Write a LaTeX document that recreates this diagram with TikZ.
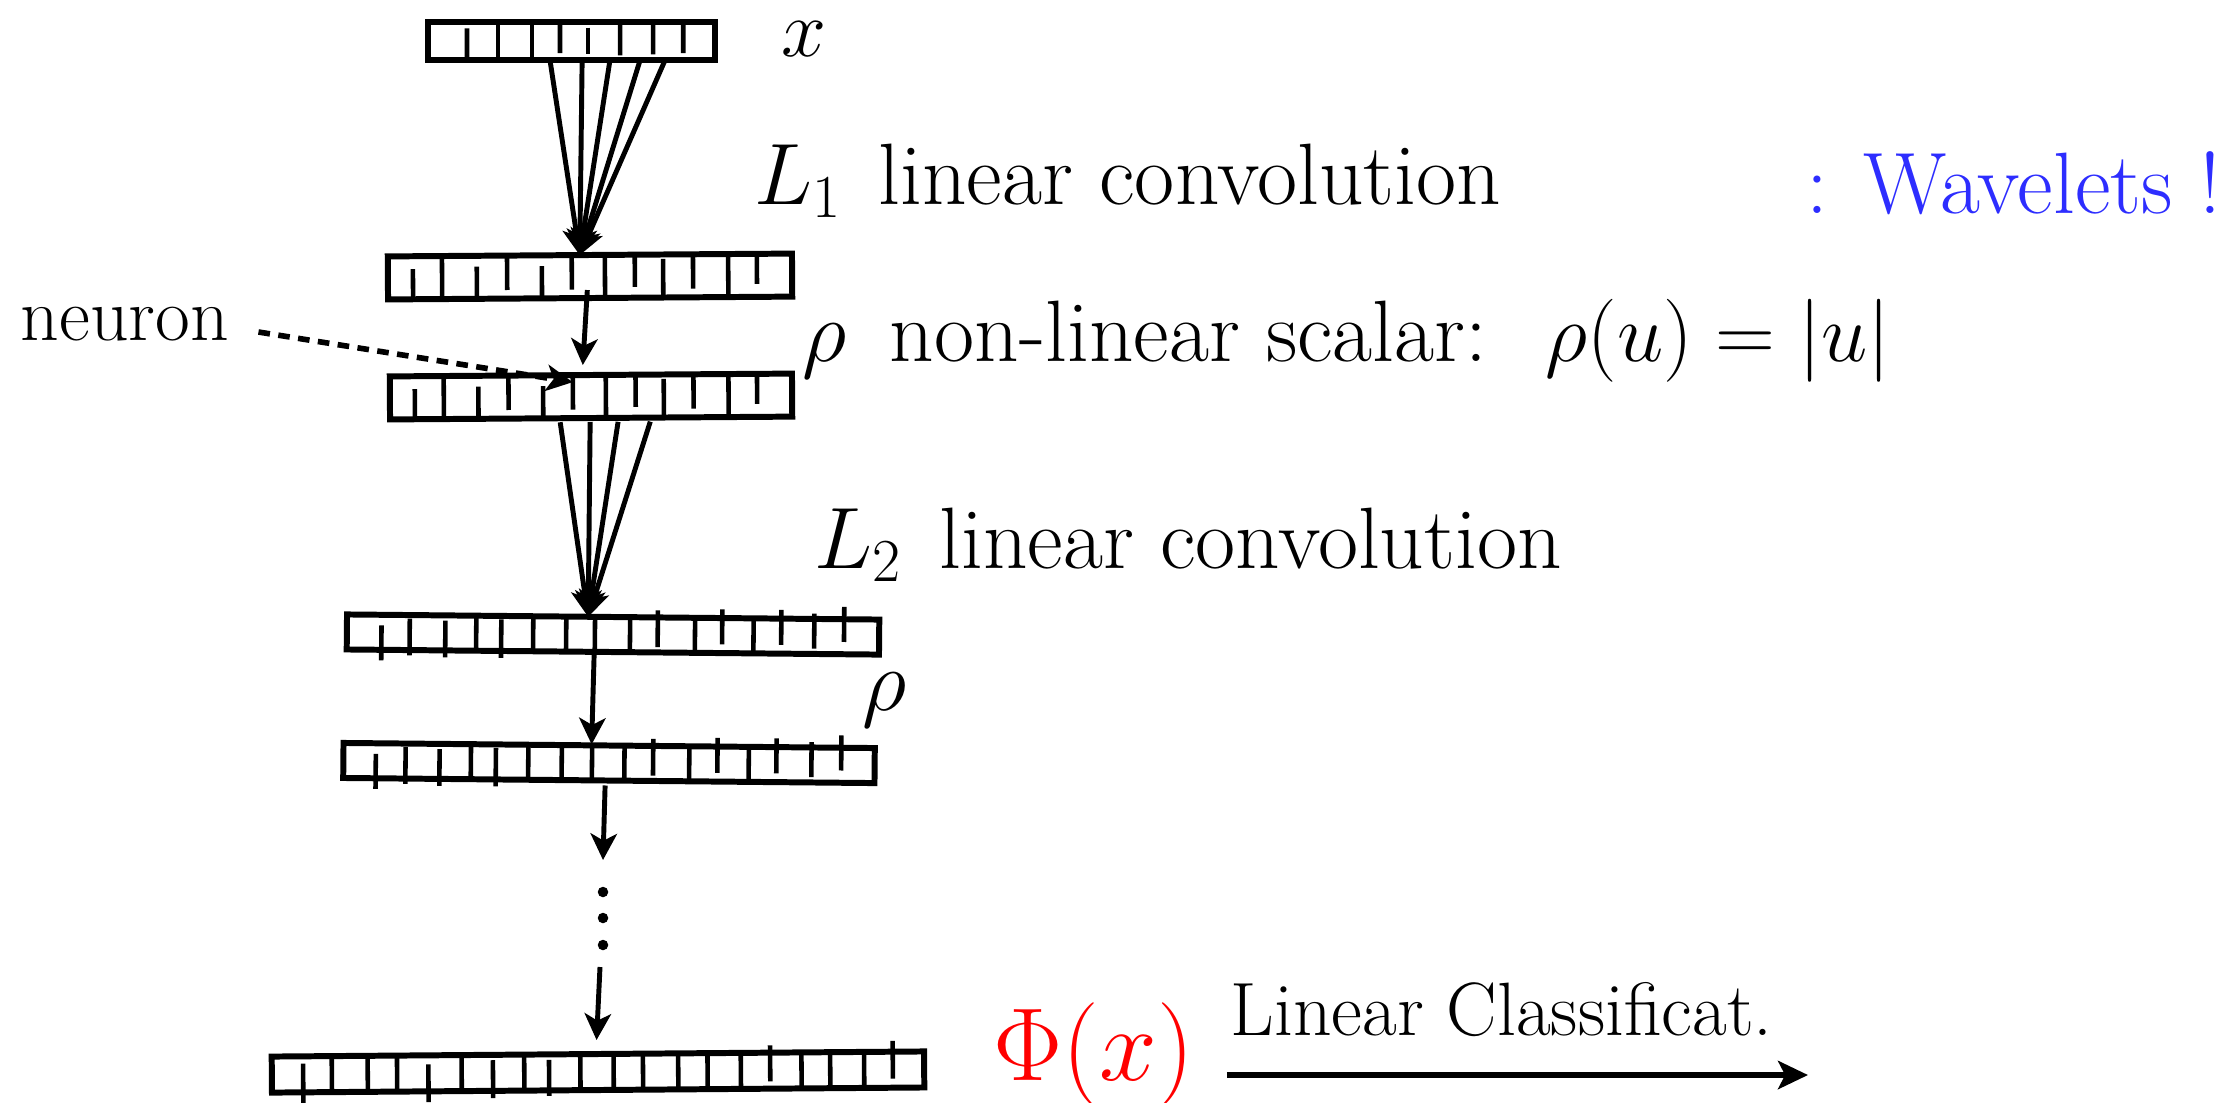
\RequirePackage{fix-cm}
\documentclass[tikz,border=0pt]{standalone}
\usetikzlibrary{arrows.meta,calc}
\definecolor{wblue}{RGB}{45,45,255}
\newcommand\layerticks[2]{%
  \foreach \tf/\ta/\tb in {#2}{%
    \draw[tick] ($($(#1.north west)!\tf!(#1.north east)$)!\ta!($(#1.south west)!\tf!(#1.south east)$)$) --
                ($($(#1.north west)!\tf!(#1.north east)$)!\tb!($(#1.south west)!\tf!(#1.south east)$)$);}}
\begin{document}
\begin{tikzpicture}[x=0.01cm,y=-0.01cm,
  layer/.style={draw, line width=1.7pt, inner sep=0pt, outer sep=0pt, rectangle},
  tick/.style={line width=1.3pt},
  arr/.style={line width=1.4pt, -{Stealth[length=7.5pt,width=7.5pt,inset=2pt]}},
  dasharr/.style={line width=1.6pt, dash pattern=on 3.3pt off 2.4pt, -{Stealth[length=7.5pt,width=7.5pt,inset=2pt]}},
  txtbig/.style={inner sep=0pt, anchor=base west, font=\fontsize{24.8}{30}\selectfont},
  txtmath/.style={inner sep=0pt, anchor=base west, font=\fontsize{23.6}{28}\selectfont},
  txtx/.style={inner sep=0pt, anchor=base west, font=\fontsize{23}{28}\selectfont},
  txtmid/.style={inner sep=0pt, anchor=base west, font=\fontsize{21.5}{26}\selectfont},
  txtphi/.style={inner sep=0pt, anchor=base west, text=red, font=\fontsize{29.5}{35}\selectfont},
  dotn/.style={circle, fill, inner sep=0pt, minimum size=0.105cm}]
\path[use as bounding box] (0,0) rectangle (2239,1102);

% layers
\node[layer, minimum width=2.87cm, minimum height=0.38cm] (lx) at (571.5,41) {};
\node[layer, minimum width=4.04cm, minimum height=0.43cm, rotate=0.4] (l1) at (590,276.5) {};
\node[layer, minimum width=4.02cm, minimum height=0.43cm, rotate=0.4] (r1) at (591,396.5) {};
\node[layer, minimum width=5.32cm, minimum height=0.35cm, rotate=-0.55] (l2) at (613,634.5) {};
\node[layer, minimum width=5.31cm, minimum height=0.35cm, rotate=-0.55] (r2) at (609,763) {};
\node[layer, minimum width=6.52cm, minimum height=0.36cm, rotate=0.45] (lf) at (598,1072) {};

\layerticks{lx}{0.136/0.17/1, 0.244/0/1, 0.362/0/1, 0.46/0/0.82, 0.557/0.15/0.85, 0.669/0/0.88, 0.784/0/0.85, 0.889/0/0.82}
\layerticks{l1}{0.062/0.3/1, 0.134/0/1, 0.22/0.25/1, 0.295/0/0.8, 0.381/0.25/1, 0.455/0/0.8, 0.537/0/1, 0.611/0/0.75, 0.681/0.1/1, 0.755/0/0.8, 0.842/0/1, 0.913/0/0.7}
\layerticks{r1}{0.062/0.3/1, 0.134/0/1, 0.22/0.25/1, 0.295/0/0.8, 0.381/0.25/1, 0.455/0/0.8, 0.537/0/1, 0.611/0/0.75, 0.681/0.1/1, 0.755/0/0.8, 0.842/0/1, 0.913/0/0.7}
\layerticks{l2}{0.065/0.3/1.3, 0.118/0.1/1.15, 0.185/0.15/1.2, 0.243/0/1, 0.29/0.1/1.2, 0.35/0/1, 0.412/0/1, 0.466/0/1, 0.532/0/1, 0.584/-0.2/0.85, 0.654/-0.05/1, 0.705/-0.25/0.75, 0.764/0/1, 0.816/-0.25/0.75, 0.878/-0.15/0.85, 0.934/-0.35/0.65}
\layerticks{r2}{0.061/0.3/1.3, 0.117/0.1/1.15, 0.181/0.15/1.2, 0.24/0/1, 0.287/0.1/1.2, 0.348/0/1, 0.411/0/1, 0.468/0/1, 0.529/0/1, 0.583/-0.2/0.85, 0.651/-0.05/1, 0.704/-0.25/0.75, 0.763/0/1, 0.815/-0.25/0.75, 0.881/-0.15/0.85, 0.937/-0.35/0.65}
\layerticks{lf}{0.048/0.2/1.3, 0.092/0/1, 0.147/0/1, 0.192/0/1, 0.24/0.25/1.3, 0.291/0/1, 0.339/0.15/1.2, 0.387/0/1, 0.425/0.15/1.15, 0.473/0/1, 0.524/0/1, 0.569/0/1, 0.623/0/1, 0.668/0/1, 0.719/0/1, 0.764/-0.2/0.8, 0.812/0/1, 0.856/0/1, 0.908/0/1, 0.952/-0.3/0.75}

% dots
\node[dotn] (d1) at (603,892) {};
\node[dotn] (d2) at (603,918) {};
\node[dotn] (d3) at (603,945) {};

% texts
\node[txtx] (xl) at (781,56) {$x$};
\node[txtbig] (l1t) at (754,204) {$L_1$\hspace{2.8pt} linear convolution};
\node[txtbig, text=wblue] (wav) at (1806,213) {: Wavelets !};
\node[txtbig] (rhot) at (802,361) {$\rho$\hspace{4.8pt} non-linear scalar:};
\node[txtmath] (rhof) at (1545,361) {$\rho(u) = |u|$};
\node[txtbig] (l2t) at (814,568) {$L_2$\hspace{3pt} linear convolution};
\node[txtbig] (rho2) at (862,710) {$\rho$};
\node[txtmid] (neuron) at (20,340) {neuron};
\node[txtphi] (phi) at (993,1080) {$\Phi(x)$};
\node[txtmid] (lc) at (1230,1035) {Linear Classificat.};

% coordinates for connectors
\coordinate (t1) at ($(l1.north west)!0.475!(l1.north east)$);
\coordinate (s1) at ($(lx.south west)!0.425!(lx.south east)$);
\coordinate (s2) at ($(lx.south west)!0.537!(lx.south east)$);
\coordinate (s3) at ($(lx.south west)!0.634!(lx.south east)$);
\coordinate (s4) at ($(lx.south west)!0.739!(lx.south east)$);
\coordinate (s5) at ($(lx.south west)!0.826!(lx.south east)$);
\coordinate (t2) at ($(l2.north west)!0.453!(l2.north east)$);
\coordinate (u1) at ($($(r1.south west)!0.423!(r1.south east)$)+(0,4)$);
\coordinate (u2) at ($($(r1.south west)!0.4975!(r1.south east)$)+(0,4)$);
\coordinate (u3) at ($($(r1.south west)!0.567!(r1.south east)$)+(0,4)$);
\coordinate (u4) at ($($(r1.south west)!0.647!(r1.south east)$)+(0,4)$);
\coordinate (a1s) at ($($(l1.south west)!0.493!(l1.south east)$)+(0,-8)$);
\coordinate (a1e) at ($($(r1.north west)!0.48!(r1.north east)$)+(0,-10)$);
\coordinate (a2s) at ($(l2.south west)!0.465!(l2.south east)$);
\coordinate (a2e) at ($($(r2.north west)!0.467!(r2.north east)$)+(0,-1)$);
\coordinate (a3s) at ($($(r2.south west)!0.493!(r2.south east)$)+(0,5)$);
\coordinate (a3e) at ($(d1)+(0,-32)$);
\coordinate (a4s) at ($(d3)+(-3,22)$);
\coordinate (a4e) at ($($(lf.north west)!0.498!(lf.north east)$)+(0,-14)$);
\coordinate (nstart) at ($(neuron.base east)+(29,-8)$);
\coordinate (nend) at ($($(r1.north west)!0.455!(r1.north east)$)+(0,7)$);
\coordinate (cstart) at ($(phi.base east)+(32,-5)$);
\coordinate (cend) at (1808,1075);

% connectors
\draw[arr] (s1) -- (t1);
\draw[arr] (s2) -- (t1);
\draw[arr] (s3) -- (t1);
\draw[arr] (s4) -- (t1);
\draw[arr] (s5) -- (t1);
\draw[arr] (a1s) -- (a1e);
\draw[dasharr] (nstart) -- (nend);
\draw[arr] (u1) -- (t2);
\draw[arr] (u2) -- (t2);
\draw[arr] (u3) -- (t2);
\draw[arr] (u4) -- (t2);
\draw[arr] (a2s) -- (a2e);
\draw[arr] (a3s) -- (a3e);
\draw[arr] (a4s) -- (a4e);
\draw[line width=1.7pt, -{Stealth[length=8.5pt,width=8pt,inset=2pt]}] (cstart) -- (cend);
\end{tikzpicture}
\end{document}
